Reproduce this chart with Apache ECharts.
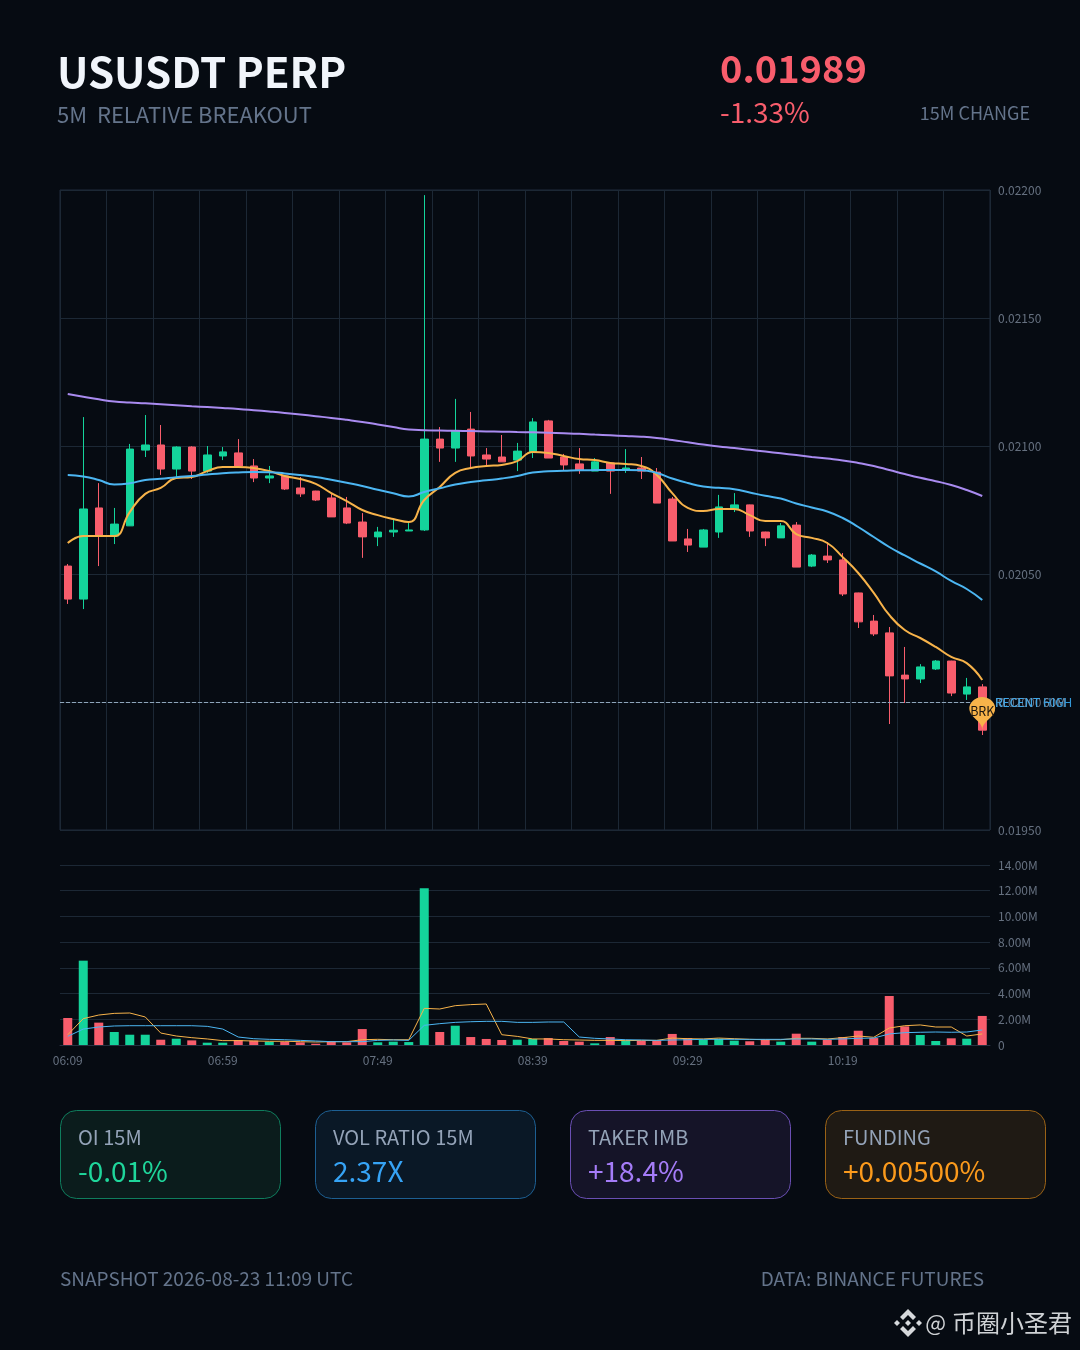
<!DOCTYPE html>
<html><head><meta charset="utf-8">
<script src="https://cdn.jsdelivr.net/npm/echarts@6/dist/echarts.min.js"></script>
<style>html,body{margin:0;padding:0;background:#060b12}#c{width:1080px;height:1350px}</style>
</head><body><div id="c"></div>
<script>
const times=["06:09","06:14","06:19","06:24","06:29","06:34","06:39","06:44","06:49","06:54","06:59","07:04","07:09","07:14","07:19","07:24","07:29","07:34","07:39","07:44","07:49","07:54","07:59","08:04","08:09","08:14","08:19","08:24","08:29","08:34","08:39","08:44","08:49","08:54","08:59","09:04","09:09","09:14","09:19","09:24","09:29","09:34","09:39","09:44","09:49","09:54","09:59","10:04","10:09","10:14","10:19","10:24","10:29","10:34","10:39","10:44","10:49","10:54","10:59","11:04"];
const opens=[0.020531,0.020402,0.020758,0.020648,0.020688,0.020984,0.021004,0.020910,0.020996,0.020902,0.020961,0.020973,0.020922,0.020875,0.020883,0.020836,0.020824,0.020797,0.020758,0.020703,0.020645,0.020664,0.020668,0.020672,0.021027,0.020992,0.021066,0.020965,0.020957,0.020945,0.020977,0.021098,0.020957,0.020930,0.020902,0.020934,0.020906,0.020914,0.020898,0.020793,0.020637,0.020605,0.020664,0.020754,0.020770,0.020664,0.020641,0.020691,0.020531,0.020570,0.020555,0.020426,0.020316,0.020270,0.020105,0.020090,0.020129,0.020160,0.020031,0.020059];
const closes=[0.020402,0.020754,0.020648,0.020695,0.020988,0.021004,0.020910,0.020996,0.020902,0.020965,0.020977,0.020922,0.020875,0.020883,0.020832,0.020813,0.020789,0.020723,0.020699,0.020645,0.020664,0.020671,0.020672,0.021027,0.020992,0.021059,0.020961,0.020949,0.020938,0.020980,0.021094,0.020953,0.020926,0.020906,0.020938,0.020902,0.020914,0.020902,0.020777,0.020629,0.020613,0.020672,0.020762,0.020770,0.020668,0.020641,0.020688,0.020527,0.020574,0.020555,0.020422,0.020313,0.020266,0.020102,0.020090,0.020137,0.020160,0.020035,0.020059,0.019890];
const lows=[0.020383,0.020363,0.020531,0.020617,0.020688,0.020957,0.020887,0.020879,0.020871,0.020895,0.020945,0.020922,0.020859,0.020855,0.020828,0.020801,0.020785,0.020723,0.020695,0.020563,0.020609,0.020645,0.020668,0.020668,0.020938,0.020938,0.020914,0.020922,0.020938,0.020902,0.020953,0.020953,0.020906,0.020891,0.020902,0.020813,0.020895,0.020871,0.020777,0.020629,0.020586,0.020605,0.020641,0.020742,0.020645,0.020609,0.020641,0.020527,0.020527,0.020543,0.020414,0.020289,0.020258,0.019914,0.019996,0.020074,0.020125,0.020023,0.020008,0.019871];
const highs=[0.020539,0.021113,0.020855,0.020758,0.021008,0.021121,0.021082,0.020999,0.020999,0.021000,0.020996,0.021027,0.020949,0.020922,0.020885,0.020879,0.020825,0.020816,0.020801,0.020738,0.020684,0.020711,0.020699,0.021980,0.021074,0.021184,0.021133,0.020992,0.021043,0.021012,0.021109,0.021102,0.020969,0.020992,0.020953,0.020935,0.020988,0.020957,0.020914,0.020801,0.020676,0.020676,0.020809,0.020816,0.020771,0.020665,0.020699,0.020703,0.020578,0.020625,0.020582,0.020427,0.020340,0.020293,0.020215,0.020148,0.020164,0.020161,0.020094,0.020070];
const emaFast=[0.020621,0.020648,0.020648,0.020648,0.020742,0.020813,0.020836,0.020875,0.020879,0.020902,0.020918,0.020918,0.020914,0.020902,0.020883,0.020871,0.020852,0.020816,0.020785,0.020750,0.020730,0.020715,0.020703,0.020789,0.020840,0.020895,0.020914,0.020922,0.020926,0.020941,0.020977,0.020973,0.020961,0.020949,0.020945,0.020934,0.020930,0.020922,0.020887,0.020816,0.020758,0.020746,0.020754,0.020754,0.020730,0.020707,0.020707,0.020656,0.020641,0.020621,0.020566,0.020504,0.020426,0.020340,0.020281,0.020250,0.020215,0.020176,0.020152,0.020086];
const emaMid=[0.0208867,0.0208809,0.0208672,0.0208496,0.0208543,0.0208672,0.0208719,0.0208781,0.0208828,0.0208887,0.0208938,0.0208969,0.0208984,0.0208977,0.0208930,0.0208867,0.0208789,0.0208680,0.0208563,0.0208438,0.0208289,0.0208152,0.0208027,0.0208203,0.0208348,0.0208496,0.0208594,0.0208660,0.0208730,0.0208828,0.0208965,0.0209016,0.0209031,0.0209051,0.0209059,0.0209063,0.0209063,0.0209055,0.0208945,0.0208730,0.0208555,0.0208418,0.0208367,0.0208313,0.0208184,0.0208055,0.0207949,0.0207754,0.0207598,0.0207441,0.0207188,0.0206836,0.0206445,0.0206055,0.0205723,0.0205410,0.0205098,0.0204727,0.0204414,0.0203984];
const emaSlow=[0.0212031,0.0211926,0.0211824,0.0211738,0.0211699,0.0211668,0.0211633,0.0211594,0.0211555,0.0211520,0.0211484,0.0211445,0.0211398,0.0211348,0.0211293,0.0211230,0.0211164,0.0211098,0.0211023,0.0210941,0.0210844,0.0210742,0.0210641,0.0210617,0.0210605,0.0210594,0.0210582,0.0210570,0.0210559,0.0210547,0.0210535,0.0210520,0.0210500,0.0210477,0.0210445,0.0210418,0.0210391,0.0210363,0.0210313,0.0210234,0.0210145,0.0210055,0.0209984,0.0209922,0.0209852,0.0209785,0.0209715,0.0209645,0.0209574,0.0209508,0.0209438,0.0209340,0.0209219,0.0209063,0.0208906,0.0208758,0.0208625,0.0208477,0.0208281,0.0208047];
const volumes=[2.10,6.56,1.74,1.01,0.80,0.80,0.41,0.49,0.36,0.18,0.18,0.39,0.34,0.26,0.26,0.21,0.10,0.31,0.21,1.24,0.21,0.26,0.23,12.2,1.01,1.50,0.62,0.47,0.39,0.41,0.47,0.54,0.31,0.26,0.13,0.62,0.36,0.31,0.36,0.86,0.54,0.41,0.49,0.34,0.29,0.41,0.26,0.88,0.26,0.41,0.62,1.11,0.54,3.81,1.45,0.78,0.31,0.52,0.49,2.26];
const volFast=[0.80,2.05,2.33,2.46,2.49,2.18,0.93,0.70,0.57,0.47,0.34,0.34,0.31,0.29,0.29,0.26,0.23,0.26,0.26,0.41,0.44,0.41,0.41,2.85,2.80,3.06,3.14,3.19,0.80,0.67,0.47,0.47,0.41,0.39,0.36,0.36,0.34,0.36,0.36,0.54,0.49,0.47,0.54,0.49,0.44,0.41,0.41,0.52,0.52,0.47,0.57,0.70,0.60,1.32,1.50,1.56,1.40,1.40,0.70,0.86];
const volSlow=[0.67,1.24,1.40,1.48,1.50,1.50,1.50,1.50,1.50,1.45,1.24,0.62,0.49,0.44,0.41,0.36,0.31,0.26,0.26,0.26,0.36,0.39,0.36,1.53,1.66,1.76,1.81,1.84,1.84,1.76,1.76,1.79,1.79,0.62,0.52,0.47,0.41,0.39,0.36,0.39,0.41,0.44,0.44,0.44,0.44,0.44,0.44,0.47,0.47,0.44,0.47,0.52,0.54,0.86,0.96,0.99,1.01,0.99,1.01,1.17];
const priceTicks={min:0.0195,max:0.022,interval:0.0005};
const volTicks={min:0,max:14,interval:2};
const breakoutLevel=0.02;
const lastPrice=0.01989;

const FONT='"Noto Sans CJK SC","Noto Sans",sans-serif';
const UP='#14d49b',DOWN='#f85d6c',ORANGE='#f7b34a',BLUE='#4cb6f2',PURPLE='#a98bf0';
const GRID='#1c2835',AXT='#667180';

const chart=echarts.init(document.getElementById('c'),null,{renderer:'canvas',width:1080,height:1350});
function txt(x,y,text,size,fill,weight,align){return {type:'text',silent:true,z:10,style:{x,y,text,fill,textAlign:align||'left',textVerticalAlign:'middle',font:(weight||400)+' '+size+'px '+FONT}};}
function card(x,fill,stroke,label,value,color){return [
 {type:'rect',silent:true,z:5,shape:{x:x+.5,y:1110.5,width:220,height:88,r:16},style:{fill,stroke,lineWidth:1}},
 txt(x+18,1137.5,label,20,'#94a3b8'),txt(x+18,1171,value,28,color)];}
function dia(cx,cy,r){return {type:'polygon',silent:true,z:10,shape:{points:[[cx-r,cy],[cx,cy-r],[cx+r,cy],[cx,cy+r]]},style:{fill:'#d6d9dc'}};}
function poly(pts){return {type:'polygon',silent:true,z:10,shape:{points:pts},style:{fill:'#d6d9dc'}};}
const cx=908,cy=1323;
const graphics=[
 txt(57,72,'USUSDT PERP',42,'#f1f5fb',700),
 txt(57,115,'5M  RELATIVE BREAKOUT',22,'#64748b'),
 txt(720,69,'0.01989',38,DOWN,700),
 txt(720,112,'-1.33%',28,DOWN),
 txt(1030,113.5,'15M CHANGE',18,'#64748b',400,'right'),
 ...card(60,'#0b1c1c','#0f7d5d','OI 15M','-0.01%','#1fd69b'),
 ...card(315,'#0a1826','#1d5f92','VOL RATIO 15M','2.37X','#36a3f5'),
 ...card(570,'#151428','#6a4fb3','TAKER IMB','+18.4%','#a57cf8'),
 ...card(825,'#1f1a14','#9a6216','FUNDING','+0.00500%','#fb9a1c'),
 txt(60,1279,'SNAPSHOT 2026-08-23 11:09 UTC',19,'#64748b'),
 txt(984,1279,'DATA: BINANCE FUTURES',19,'#64748b',400,'right'),
 txt(946,1323,'@',22,'#cfd2d5',400,'right'),
 txt(1072,1323,'币圈小圣君',24,'#cfd2d5',400,'right'),
 dia(cx-11,cy,3),dia(cx+11,cy,3),dia(cx,cy,3),
 poly([[cx,cy-14],[cx+8,cy-6],[cx+5,cy-3],[cx,cy-8],[cx-5,cy-3],[cx-8,cy-6]]),
 poly([[cx,cy+14],[cx+8,cy+6],[cx+5,cy+3],[cx,cy+8],[cx-5,cy+3],[cx-8,cy+6]])
];
const candles=times.map((_,i)=>[opens[i],closes[i],lows[i],highs[i]]);
const lineOf=(data,color,width,idx,smooth)=>({type:'line',data,xAxisIndex:idx,yAxisIndex:idx,smooth,showSymbol:false,symbol:'none',silent:true,z:4,lineStyle:{color,width}});
chart.setOption({
 animation:false,backgroundColor:'#060b12',
 textStyle:{fontFamily:FONT},
 graphic:{elements:graphics},
 grid:[
  {left:60,top:190,width:930,height:640,show:true,borderColor:'#1e2b3a',borderWidth:1,backgroundColor:'transparent'},
  {left:60,top:865,width:930,height:180}
 ],
 xAxis:[
  {type:'category',gridIndex:0,data:times,boundaryGap:true,axisLine:{show:false},axisTick:{show:false},axisLabel:{show:false},splitLine:{show:true,interval:2,lineStyle:{color:GRID,width:1}}},
  {type:'category',gridIndex:1,data:times,boundaryGap:true,axisLine:{show:true,lineStyle:{color:'#253241'}},axisTick:{show:false},splitLine:{show:false},axisLabel:{interval:9,color:AXT,fontSize:12,margin:9,fontFamily:FONT}}
 ],
 yAxis:[
  {type:'value',gridIndex:0,position:'right',scale:true,min:priceTicks.min,max:priceTicks.max,interval:priceTicks.interval,axisLine:{show:false},axisTick:{show:false},splitLine:{lineStyle:{color:GRID,width:1}},axisLabel:{color:AXT,fontSize:12,margin:8,padding:[2,0,0,0],formatter:v=>v.toFixed(5),fontFamily:FONT}},
  {type:'value',gridIndex:1,position:'right',min:volTicks.min,max:volTicks.max,interval:volTicks.interval,axisLine:{show:false},axisTick:{show:false},splitLine:{lineStyle:{color:GRID,width:1}},axisLabel:{color:AXT,fontSize:12,margin:8,padding:[2,0,0,0],formatter:v=>v===0?'0':v.toFixed(2)+'M',fontFamily:FONT}}
 ],
 series:[
  {type:'candlestick',xAxisIndex:0,yAxisIndex:0,data:candles,barWidth:8,z:2,silent:true,
   itemStyle:{color:UP,color0:DOWN,borderColor:UP,borderColor0:DOWN,borderWidth:1},
   markLine:{silent:true,symbol:'none',z:3,precision:5,lineStyle:{type:'dashed',color:'#8fa6bb',width:1,opacity:.9},
     label:{position:'end',distance:5,fontSize:12,fontFamily:FONT},
     data:[{yAxis:breakoutLevel,label:{formatter:'RECENT 60M',color:'#8aa0b5'}},{yAxis:breakoutLevel,label:{formatter:'RECENT HIGH',color:'#38a9ee'}}]},
   markPoint:{silent:true,z:8,symbol:'pin',symbolSize:[43,38],itemStyle:{color:ORANGE},
     label:{formatter:'BRK',color:'#1a1510',fontSize:12.5,fontFamily:FONT,offset:[0,1]},
     data:[{coord:[times.length-1,lastPrice]}]}},
  lineOf(emaFast,ORANGE,2,0,true),
  lineOf(emaMid,BLUE,2,0,true),
  lineOf(emaSlow,PURPLE,2,0,true),
  {type:'bar',xAxisIndex:1,yAxisIndex:1,data:volumes.map((v,i)=>({value:v,itemStyle:{color:closes[i]>=opens[i]?UP:DOWN}})),barWidth:9,z:2,silent:true},
  lineOf(volFast,ORANGE,1,1,false),
  lineOf(volSlow,BLUE,1,1,false)
 ]
});
</script></body></html>
